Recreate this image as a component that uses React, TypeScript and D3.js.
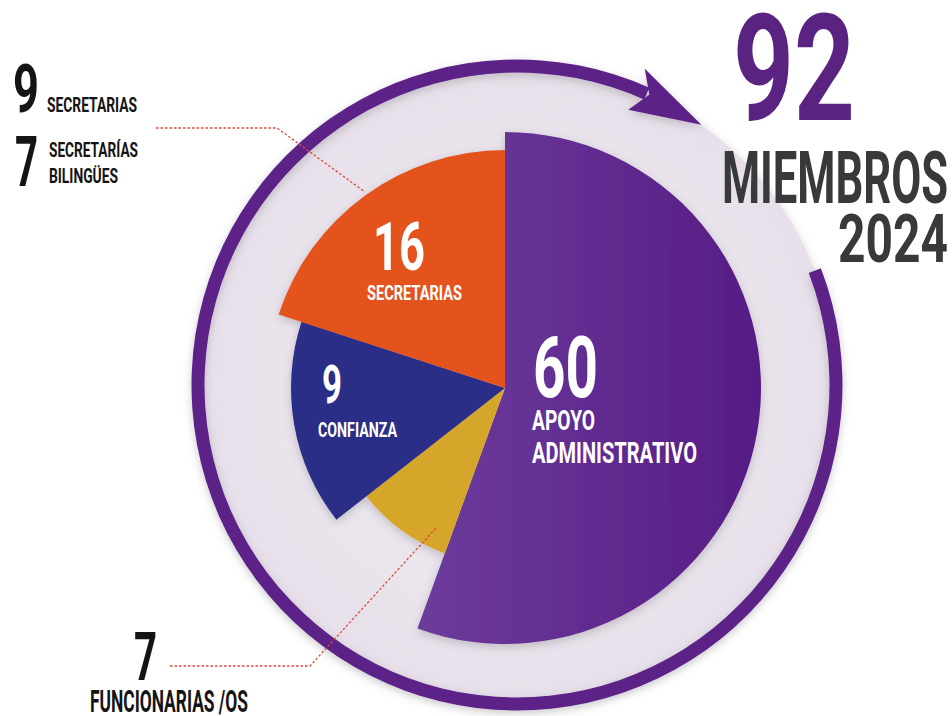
import * as d3 from 'd3';
import React from 'react';

// slices, clockwise from 12 o'clock
const categories = ['APOYO ADMINISTRATIVO', 'FUNCIONARIAS /OS', 'CONFIANZA', 'SECRETARIAS'];
const counts = [60, 7, 9, 16];
// sweep of each slice in degrees, as drawn in the picture
const sweepDeg = [200, 32, 56, 72];
// breakdown of the secretaries slice
const secretaryKinds = ['SECRETARIAS', 'SECRETARÍAS BILINGÜES'];
const secretaryCounts = [9, 7];
const yearLabel = '2024';
const membersLabel = 'MIEMBROS';

const W = 952;
const H = 716;
const FONT = 'Roboto, "Liberation Sans", sans-serif';
const CAP = 0.711; // roboto cap height / em

const sliceColors = ['url(#purpleGrad)', '#d6a62a', '#2b2f86', '#e4531f'];
const sliceRadius = [256, 176, 214, 238];

const deg = (a: number) => (a * Math.PI) / 180;

function T({ x, y, w, cap, fill, children }: any) {
  return (
    <text
      x={x}
      y={y}
      fontFamily={FONT}
      fontWeight={700}
      fontSize={cap / CAP}
      textLength={w}
      lengthAdjust="spacingAndGlyphs"
      fill={fill}
    >
      {children}
    </text>
  );
}

export default function App() {
  const cx = 505;
  const cy = 388;
  const rx = 517;
  const ry = 385;
  const ringR = 319;

  const pie = d3
    .pie<number>()
    .sort(null)
    .value((d) => d);
  const slices = pie(sweepDeg);

  const arc = d3.arc<any>();

  const ringPath = arc({
    innerRadius: ringR - 6.5,
    outerRadius: ringR + 6.5,
    startAngle: deg(69),
    endAngle: deg(360 + 24),
    cornerRadius: 6.5,
  } as any) as string;

  const polar = (r: number, a: number) => [rx + r * Math.sin(deg(a)), ry - r * Math.cos(deg(a))];
  const head = [polar(ringR, 35.3), polar(ringR + 22, 22), polar(ringR, 24.5), polar(ringR - 22, 22)];

  const total = d3.sum(counts);

  // label layout inside slices [numberX, numberBase, numberW, numberCap, lines...]
  const inner = [
    { nx: 533, ny: 397, nw: 65, nc: 60, lines: [[532, 430, 63, 20], [532, 463, 165, 21]] },
    null,
    { nx: 322, ny: 403, nw: 20, nc: 38, lines: [[318, 437, 79, 15]] },
    { nx: 373, ny: 270, nw: 52, nc: 48, lines: [[367, 300, 95, 15]] },
  ];
  const splitLines = (s: string, n: number) => {
    if (n === 1) return [s];
    const parts = s.split(' ');
    return [parts[0], parts.slice(1).join(' ')];
  };

  return (
    <svg width={W} height={H} style={{ position: 'absolute', left: 0, top: 0 }}>
      <defs>
        <linearGradient id="purpleGrad" x1="0" x2="1" y1="0" y2="0">
          <stop offset="0" stopColor="#6b3c9c" />
          <stop offset="1" stopColor="#571c85" />
        </linearGradient>
        <radialGradient id="discGrad" cx="0.5" cy="0.5" r="0.5">
          <stop offset="0" stopColor="#f1edf3" />
          <stop offset="1" stopColor="#e7e0ea" />
        </radialGradient>
        <filter id="soft" x="-20%" y="-20%" width="140%" height="140%">
          <feDropShadow dx="0" dy="3" stdDeviation="5" floodColor="#000" floodOpacity="0.18" />
        </filter>
      </defs>
      <rect width={W} height={H} fill="#ffffff" />

      {/* light disc behind pie */}
      <circle cx={rx} cy={ry} r={ringR} fill="url(#discGrad)" filter="url(#soft)" />

      {/* ring with arrow */}
      <g fill="#5c2187" filter="url(#soft)">
        <path d={ringPath} transform={`translate(${rx},${ry})`} />
        <polygon points={head.map((p) => p.join(',')).join(' ')} />
      </g>

      {/* slices */}
      <g transform={`translate(${cx},${cy})`} filter="url(#soft)">
        {slices.map((s, i) => (
          <path
            key={i}
            d={arc({ ...s, innerRadius: 0, outerRadius: sliceRadius[i] } as any) as string}
            fill={sliceColors[i]}
          />
        ))}
      </g>

      {/* slice labels */}
      {inner.map((l, i) => {
        if (!l) return null;
        const lines = splitLines(categories[i], l.lines.length);
        return (
          <g key={i}>
            <T x={l.nx} y={l.ny} w={l.nw} cap={l.nc} fill="#ffffff">
              {counts[i]}
            </T>
            {l.lines.map((p, j) => (
              <T key={j} x={p[0]} y={p[1]} w={p[2]} cap={p[3]} fill="#ffffff">
                {lines[j]}
              </T>
            ))}
          </g>
        );
      })}

      {/* leader lines */}
      <g fill="none" stroke="#e2473b" strokeWidth={1.3} strokeDasharray="2.5,2">
        <polyline points="156,128 277,128 365,192" />
        <polyline points="170,666 310,666 436,528" />
      </g>

      {/* secretaries breakdown */}
      <T x={13} y={112} w={26} cap={48} fill="#141414">{secretaryCounts[0]}</T>
      <T x={47} y={112} w={90} cap={14} fill="#141414">{secretaryKinds[0]}</T>
      <T x={15} y={186} w={23} cap={50} fill="#141414">{secretaryCounts[1]}</T>
      <T x={49} y={157} w={89} cap={15} fill="#141414">{secretaryKinds[1].split(' ')[0]}</T>
      <T x={49} y={183} w={69} cap={15} fill="#141414">{secretaryKinds[1].split(' ')[1]}</T>

      {/* funcionarias */}
      <T x={134} y={680} w={23} cap={47} fill="#141414">{counts[1]}</T>
      <T x={90} y={712} w={158} cap={22} fill="#141414">{categories[1]}</T>

      {/* total */}
      <T x={733} y={120} w={122} cap={105} fill="#5a2381">{total}</T>
      <T x={722} y={203} w={226} cap={51} fill="#38393b">{membersLabel}</T>
      <T x={838} y={262} w={110} cap={48} fill="#38393b">{yearLabel}</T>
    </svg>
  );
}
